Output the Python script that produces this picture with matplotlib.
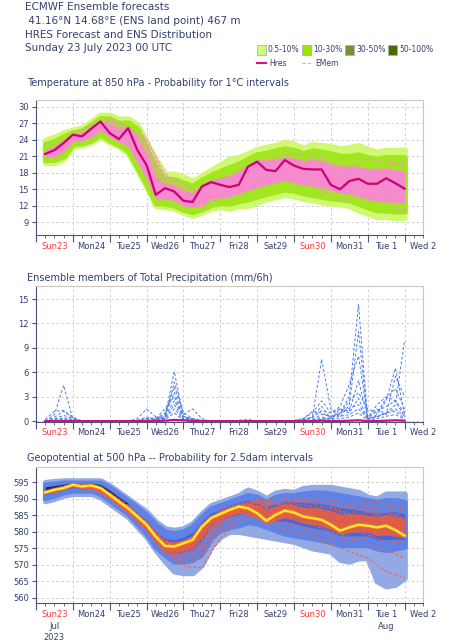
import numpy as np
import matplotlib.pyplot as plt
import matplotlib.patheffects as pe
from matplotlib.patches import Rectangle
from matplotlib.lines import Line2D
from matplotlib.transforms import blended_transform_factory

# ---- data ----
# 6-hourly steps from +6h to +240h
hours = np.arange(6, 241, 6)
# 12-hourly steps used for the individual members drawn
hours12 = np.arange(12, 241, 12)

day_labels = ['Sun23', 'Mon24', 'Tue25', 'Wed26', 'Thu27', 'Fri28',
              'Sat29', 'Sun30', 'Mon31', 'Tue 1', 'Wed 2']

# temperature 850 hPa (degC)
t_hres = [21.4, 22.1, 23.4, 24.9, 24.6, 26.0, 27.3, 25.2, 24.1, 26.1,
          22.1, 19.4, 14.0, 15.2, 14.6, 12.9, 12.7, 15.5, 16.3, 15.8,
          15.4, 15.8, 19.1, 20.0, 18.5, 18.3, 20.3, 19.3, 18.7, 18.6,
          18.6, 15.8, 15.0, 16.5, 16.9, 16.0, 16.0, 17.0, 16.1, 15.1]
t_out_hi = [24.0, 24.5, 25.3, 25.8, 26.2, 27.3, 28.5, 28.5, 27.8, 27.8,
            26.8, 23.5, 20.5, 17.8, 17.8, 17.3, 16.5, 17.5, 18.5, 19.5,
            20.5, 20.8, 21.5, 22.3, 22.7, 23.0, 23.6, 23.2, 22.5, 23.2,
            23.0, 22.8, 22.4, 22.6, 23.0, 22.3, 21.8, 22.1, 22.1, 22.2]
t_out_lo = [19.8, 19.8, 20.5, 22.8, 23.0, 23.5, 24.5, 23.5, 22.8, 21.5,
            18.5, 15.5, 12.0, 11.8, 11.5, 10.8, 10.2, 10.8, 11.5, 11.8,
            11.5, 12.0, 12.0, 12.6, 13.2, 13.6, 14.0, 13.8, 13.3, 13.0,
            12.7, 12.4, 12.3, 12.0, 11.2, 10.6, 10.0, 10.0, 9.8, 9.8]
t_mid_hi = [23.2, 23.7, 24.6, 25.3, 25.6, 26.7, 27.9, 27.8, 27.0, 27.1,
            25.9, 22.5, 18.8, 16.8, 16.8, 16.2, 15.6, 16.7, 17.6, 18.3,
            19.0, 19.6, 20.5, 21.3, 21.6, 22.0, 22.4, 22.1, 21.5, 22.0,
            21.8, 21.5, 21.0, 21.0, 21.3, 20.8, 20.5, 20.8, 20.8, 20.8]
t_mid_lo = [20.3, 20.4, 21.0, 23.2, 23.4, 23.9, 25.0, 23.9, 23.1, 22.0,
            19.0, 15.9, 12.5, 12.4, 12.1, 11.3, 10.9, 11.4, 12.2, 12.5,
            12.4, 12.9, 13.2, 13.7, 14.2, 14.6, 15.0, 14.8, 14.3, 14.0,
            13.7, 13.4, 13.2, 13.0, 12.4, 11.8, 11.2, 11.2, 11.0, 11.0]
t_core_hi = [22.3, 22.8, 23.9, 25.0, 25.2, 26.2, 27.4, 26.8, 26.0, 26.3,
             24.6, 21.2, 17.2, 16.0, 15.7, 14.8, 14.4, 15.8, 16.8, 17.0,
             17.4, 18.3, 19.5, 20.4, 20.3, 20.5, 20.9, 20.7, 20.2, 20.4,
             20.2, 19.6, 19.2, 19.2, 19.2, 18.7, 18.6, 18.7, 18.6, 18.4]
t_core_lo = [20.7, 21.0, 21.8, 23.6, 23.8, 24.4, 25.6, 24.4, 23.6, 22.8,
             19.8, 16.8, 13.2, 13.2, 13.0, 12.0, 11.7, 12.3, 13.3, 13.5,
             13.6, 14.3, 14.8, 15.3, 15.8, 16.2, 16.5, 16.2, 15.7, 15.7,
             15.2, 14.8, 14.3, 14.3, 13.8, 13.3, 12.8, 12.8, 12.6, 12.4]
t_members = [
    [22.0, 24.0, 25.5, 27.0, 25.5, 24.0, 18.0, 14.5, 13.0, 15.5, 16.0, 17.5, 20.5, 19.0, 20.5, 19.5, 17.0, 18.0, 17.5, 16.5],
    [21.0, 25.0, 26.5, 26.0, 24.5, 23.0, 16.5, 13.5, 12.0, 14.0, 15.5, 18.5, 19.0, 17.5, 19.0, 18.0, 15.5, 15.0, 14.0, 13.5],
    [22.5, 24.5, 25.0, 27.5, 26.0, 21.0, 15.0, 15.0, 12.5, 16.0, 17.5, 16.5, 18.0, 20.5, 18.0, 16.5, 17.0, 19.0, 18.5, 18.0],
    [21.5, 23.8, 26.0, 26.5, 25.0, 22.0, 14.0, 13.0, 11.5, 13.5, 14.5, 17.0, 17.0, 16.5, 16.0, 15.0, 14.0, 13.0, 12.5, 11.0],
    [20.5, 24.0, 25.5, 26.0, 24.0, 20.0, 13.5, 12.0, 11.8, 15.0, 16.5, 19.5, 21.0, 21.5, 21.0, 20.0, 19.0, 20.5, 20.0, 19.5],
    [22.8, 25.0, 26.8, 27.3, 26.5, 23.5, 16.0, 15.5, 14.0, 17.0, 18.0, 18.0, 16.5, 18.5, 17.5, 17.0, 18.0, 16.0, 15.5, 15.0],
    [21.8, 24.3, 26.0, 26.8, 25.8, 24.5, 17.0, 14.0, 12.8, 14.5, 15.0, 16.0, 18.5, 17.0, 15.5, 14.0, 13.0, 14.5, 16.0, 17.0],
    [21.2, 24.6, 25.8, 27.5, 24.8, 22.5, 15.5, 14.8, 13.5, 16.5, 17.0, 18.0, 19.5, 19.0, 19.5, 18.5, 16.0, 17.0, 19.0, 20.0],
    [22.2, 23.6, 26.3, 26.2, 25.2, 21.5, 14.5, 12.5, 12.2, 15.8, 18.5, 20.0, 20.0, 20.0, 20.5, 17.5, 15.0, 16.5, 13.5, 12.5],
    [21.6, 24.8, 25.2, 27.8, 26.2, 23.0, 17.5, 16.0, 13.8, 13.2, 14.0, 15.2, 17.5, 18.0, 16.8, 19.0, 18.5, 17.5, 17.8, 14.5],
]

# total precipitation (mm/6h)
p_hres = [0, 0, 0, 0, 0, 0, 0, 0, 0, 0,
          0, 0, 0, 0.05, 0.15, 0.1, 0, 0, 0, 0,
          0, 0, 0, 0, 0, 0, 0, 0, 0, 0,
          0.05, 0, 0, 0.05, 0.1, 0, 0, 0.05, 0.1, 0.05]
p_members = [
    [0.0, 0.8, 4.4, 0.2, 0, 0, 0, 0, 0, 0, 0, 0.3, 0.2, 0.5, 6.1, 0.6, 0.2, 0, 0, 0, 0, 0, 0, 0, 0, 0, 0, 0, 0, 0, 0.2, 0.4, 1.0, 3.0, 14.3, 0.3, 0.5, 1.0, 2.0, 9.9],
    [0.2, 1.2, 1.3, 0.5, 0, 0, 0, 0, 0, 0, 0.3, 1.5, 0.5, 0.3, 4.8, 1.0, 0.3, 0.1, 0, 0, 0, 0, 0, 0, 0, 0, 0, 0, 0.1, 0.5, 7.6, 1.5, 0.5, 2.0, 11.0, 0.2, 0.8, 2.5, 6.5, 0.8],
    [0, 0.5, 1.2, 0.4, 0, 0, 0, 0, 0, 0, 0.1, 0.5, 0.2, 1.0, 4.2, 0.8, 1.5, 0.3, 0, 0, 0, 0, 0, 0, 0, 0, 0, 0.1, 0.3, 1.0, 2.5, 1.0, 1.8, 4.5, 8.0, 0.5, 1.5, 0.8, 5.5, 3.0],
    [0, 0.3, 0.7, 0.3, 0, 0, 0, 0, 0, 0, 0, 0.3, 0.4, 0.8, 3.5, 0.5, 0.3, 0.1, 0, 0, 0, 0.1, 0.2, 0, 0, 0, 0, 0, 0.2, 0.5, 1.8, 0.3, 1.5, 1.2, 5.0, 0.4, 2.0, 3.0, 2.5, 1.0],
    [0, 0.2, 0.4, 0.2, 0, 0, 0, 0, 0, 0, 0, 0.2, 0.3, 1.5, 3.0, 0.4, 0.2, 0, 0, 0, 0, 0, 0, 0, 0, 0, 0, 0, 0.3, 1.2, 1.0, 0.5, 0.8, 2.5, 3.5, 1.5, 1.0, 2.8, 4.0, 1.5],
    [0, 0.1, 0.3, 0.1, 0, 0, 0, 0, 0, 0, 0, 0.1, 0.2, 0.6, 2.5, 0.5, 0.1, 0, 0, 0, 0, 0, 0, 0, 0, 0, 0, 0, 0.1, 0.4, 1.3, 1.0, 1.5, 1.0, 2.8, 0.2, 0.5, 1.0, 1.5, 0.6],
    [0, 0.1, 0.2, 0, 0, 0, 0, 0, 0, 0, 0, 0.1, 0.1, 0.4, 2.0, 0.3, 0.1, 0, 0, 0, 0, 0, 0, 0, 0, 0, 0, 0, 0, 0.2, 0.8, 0.6, 1.0, 1.6, 2.0, 0.4, 1.2, 1.8, 2.5, 0.5],
    [0, 0, 0.1, 0, 0, 0, 0, 0, 0, 0, 0, 0, 0.2, 0.3, 1.5, 0.2, 0, 0, 0, 0, 0, 0, 0, 0, 0, 0, 0, 0, 0, 0.1, 0.5, 0.3, 0.6, 0.8, 1.5, 0.3, 0.6, 1.0, 1.2, 0.3],
    [0, 0, 0, 0, 0, 0, 0, 0, 0, 0, 0, 0, 0.1, 0.2, 1.0, 0.1, 0, 0, 0, 0, 0, 0, 0, 0, 0, 0, 0, 0, 0, 0, 0.3, 0.2, 0.3, 0.5, 1.0, 0.1, 0.3, 0.6, 0.8, 0.2],
]

# geopotential 500 hPa (dam)
z_hres = [591.9, 592.7, 593.2, 594.2, 593.7, 594.0, 593.2, 591.2, 589.1, 587.1,
          584.6, 582.1, 578.5, 575.7, 575.5, 576.5, 577.5, 581.5, 584.1, 585.4,
          586.6, 587.6, 587.1, 585.6, 583.3, 585.1, 586.4, 585.8, 584.6, 584.1,
          583.6, 582.1, 580.3, 581.3, 582.1, 581.8, 581.3, 581.8, 580.5, 578.8]
z_out_hi = [595.0, 595.3, 595.5, 595.5, 595.5, 595.5, 595.5, 594.0, 592.0, 590.0,
            588.0, 586.0, 583.0, 581.0, 580.5, 581.0, 582.5, 585.5, 588.0, 589.0,
            590.0, 591.0, 592.7, 591.7, 590.1, 591.8, 592.3, 592.0, 593.2, 593.5,
            593.5, 593.5, 593.0, 592.5, 592.0, 590.5, 590.0, 591.5, 591.5, 591.5]
z_out_lo = [589.3, 590.0, 591.0, 591.5, 591.5, 591.5, 590.5, 588.5, 586.5, 584.5,
            581.5, 578.5, 574.5, 571.0, 568.0, 567.5, 567.5, 570.0, 575.5, 578.5,
            580.0, 580.0, 579.5, 579.0, 578.5, 578.0, 577.5, 577.0, 576.0, 575.0,
            574.5, 574.0, 571.5, 571.0, 572.0, 572.0, 565.0, 563.5, 564.0, 566.0]
z_mid_hi = [594.3, 594.5, 594.8, 594.8, 594.8, 594.8, 594.8, 593.3, 591.3, 589.3,
            587.3, 585.0, 582.0, 580.0, 579.5, 580.0, 581.5, 584.5, 587.0, 588.0,
            589.0, 590.0, 591.0, 590.5, 589.0, 590.5, 591.0, 591.0, 591.5, 591.8,
            591.8, 591.5, 591.0, 590.5, 590.0, 589.5, 589.0, 589.5, 589.5, 589.0]
z_mid_lo = [590.3, 591.0, 592.0, 592.5, 592.5, 592.5, 591.5, 589.5, 587.5, 585.5,
            582.5, 579.5, 575.5, 573.0, 571.0, 571.0, 571.5, 573.5, 578.5, 580.5,
            581.5, 582.0, 583.0, 582.5, 581.5, 580.5, 579.5, 579.0, 578.5, 578.0,
            577.5, 577.0, 576.0, 576.0, 576.0, 576.0, 575.0, 574.5, 575.0, 575.5]
z_dark_hi = [593.4, 593.8, 594.2, 594.6, 594.4, 594.5, 594.0, 592.3, 590.2, 588.2,
             585.8, 583.4, 580.2, 578.0, 577.6, 578.4, 579.8, 583.2, 585.6, 586.8,
             588.0, 589.0, 589.6, 588.8, 587.6, 588.6, 589.4, 589.2, 588.8, 588.8,
             588.4, 588.0, 587.2, 587.0, 586.6, 586.0, 585.6, 586.0, 586.0, 585.6]
z_dark_lo = [591.2, 592.0, 592.7, 593.4, 593.0, 593.2, 592.4, 590.2, 588.2, 586.2,
             583.4, 580.6, 576.6, 574.2, 573.4, 573.8, 574.6, 577.4, 581.6, 583.6,
             584.6, 585.2, 585.8, 584.8, 583.6, 583.2, 583.2, 582.6, 581.8, 581.2,
             580.6, 580.0, 578.8, 578.6, 578.8, 578.6, 577.6, 577.6, 577.8, 577.6]
# navy (50-100%) strip, first two and a half days only
z_navy_hi = [593.6, 594.0, 594.4, 594.8, 594.6, 594.7, 594.3, 592.6, 590.5, 588.6]
z_navy_lo = [592.2, 592.8, 593.4, 594.2, 593.8, 594.0, 593.3, 591.3, 589.3, 587.3]
# red/orange core of the member spaghetti
z_red_hi = [592.6, 593.2, 593.8, 594.4, 594.0, 594.2, 593.6, 591.8, 589.8, 587.8,
            585.4, 583.0, 579.6, 577.2, 576.8, 577.6, 578.8, 582.4, 585.0, 586.2,
            587.4, 588.4, 588.8, 588.0, 586.6, 587.8, 588.6, 588.2, 587.4, 587.2,
            587.0, 586.4, 585.4, 585.4, 585.4, 585.0, 584.6, 585.0, 584.8, 584.0]
z_red_lo = [591.4, 592.1, 592.7, 593.6, 593.0, 593.2, 592.3, 590.2, 588.2, 586.2,
            583.4, 580.8, 576.8, 574.2, 573.6, 574.2, 575.0, 578.4, 582.2, 584.0,
            585.0, 585.6, 585.2, 584.0, 582.2, 583.4, 584.2, 583.8, 582.6, 582.2,
            581.6, 580.6, 579.2, 579.6, 580.0, 579.8, 578.8, 579.0, 578.6, 578.2]
z_members = [
    [592.5, 594.5, 594.0, 591.5, 587.5, 582.5, 576.0, 574.0, 578.0, 584.5, 587.5, 590.0, 588.0, 589.5, 588.5, 587.0, 585.0, 584.0, 586.0, 584.0],
    [592.8, 594.0, 593.5, 591.0, 586.5, 581.0, 574.5, 572.0, 575.0, 583.0, 586.5, 588.0, 586.5, 586.0, 585.0, 583.0, 580.5, 579.0, 577.0, 576.5],
    [592.0, 594.3, 593.8, 590.5, 587.0, 582.0, 577.0, 576.5, 580.5, 586.0, 588.0, 587.0, 584.5, 587.5, 586.0, 585.0, 584.0, 586.0, 584.0, 582.0],
    [592.3, 593.8, 593.0, 590.8, 586.0, 581.5, 575.0, 570.5, 572.0, 580.0, 584.0, 586.0, 583.0, 582.0, 580.5, 578.0, 577.0, 578.5, 580.0, 583.0],
    [593.0, 594.6, 594.2, 591.8, 588.0, 583.0, 577.5, 575.0, 577.5, 583.5, 586.5, 589.5, 589.5, 590.5, 589.0, 588.5, 587.0, 586.5, 587.5, 586.0],
    [591.8, 594.0, 593.5, 590.0, 585.5, 580.5, 574.0, 569.5, 569.0, 578.0, 583.0, 585.0, 581.5, 580.0, 578.5, 576.0, 574.0, 572.0, 568.0, 566.0],
    [592.5, 594.2, 593.6, 591.2, 587.2, 582.0, 576.0, 573.5, 577.0, 584.0, 587.0, 588.5, 585.5, 584.5, 584.0, 582.5, 582.0, 581.0, 579.0, 580.0],
    [592.2, 594.1, 593.9, 590.9, 586.8, 581.8, 575.5, 574.5, 579.5, 585.0, 587.8, 588.8, 587.0, 588.5, 587.5, 586.0, 583.5, 583.0, 585.0, 585.5],
    [592.6, 594.4, 593.3, 590.2, 585.8, 580.2, 573.5, 571.5, 573.5, 581.5, 585.5, 587.5, 588.5, 589.0, 590.0, 589.5, 588.0, 589.0, 588.5, 587.5],
    [592.1, 593.9, 594.0, 591.4, 587.6, 582.8, 576.8, 575.8, 581.5, 586.5, 588.5, 589.0, 585.0, 583.5, 582.0, 580.0, 578.5, 576.0, 574.5, 572.0],
    [592.4, 594.2, 593.7, 590.6, 586.2, 580.8, 574.8, 573.0, 576.0, 582.5, 586.0, 587.5, 586.0, 585.0, 586.5, 584.5, 583.0, 580.5, 582.0, 579.0],
    [592.7, 594.3, 593.4, 591.6, 587.0, 582.2, 576.5, 575.5, 578.5, 584.0, 587.0, 589.0, 588.5, 586.5, 587.0, 587.5, 585.5, 587.5, 583.5, 581.0],
]

# ---- styling ----
TXT = '#33406e'
SUN = '#ff3b3b'
W, H = 473, 640

fig = plt.figure(figsize=(W / 100, H / 100), dpi=100)
fig.patch.set_facecolor('white')

header = ['ECMWF Ensemble forecasts',
          ' 41.16°N 14.68°E (ENS land point) 467 m',
          'HRES Forecast and ENS Distribution',
          'Sunday 23 July 2023 00 UTC']
for i, line in enumerate(header):
    fig.text(25 / W, 1 - (7.5 + 13.6 * i) / H, line, fontsize=7.5, color=TXT,
             va='center', ha='left')

# legend
leg_cols = ['#ccff77', '#99e600', '#76913a', '#4a6b00']
leg_txt = ['0.5-10%', '10-30%', '30-50%', '50-100%']
for x0, c, s in zip([257, 302, 345, 388], leg_cols, leg_txt):
    fig.add_artist(Rectangle((x0 / W, 1 - 55 / H), 9 / W, 10 / H, transform=fig.transFigure,
                             facecolor=c, edgecolor='#b0b0b0', lw=0.6))
    fig.text((x0 + 11) / W, 1 - 50 / H, s, fontsize=5.5, color=TXT, va='center')
fig.add_artist(Line2D([257 / W, 266 / W], [1 - 63 / H] * 2, transform=fig.transFigure,
                      color='#dd1177', lw=1.5))
fig.text(269 / W, 1 - 63 / H, 'Hres', fontsize=5.5, color=TXT, va='center')
fig.add_artist(Line2D([302 / W, 312 / W], [1 - 63 / H] * 2, transform=fig.transFigure,
                      color='#ff99cc', lw=0.8, ls=(0, (3, 2))))
fig.text(315 / W, 1 - 63 / H, 'EMem', fontsize=5.5, color=TXT, va='center')


def make_ax(top, bottom, title, title_y):
    ax = fig.add_axes([36 / W, 1 - bottom / H, (423 - 36) / W, (bottom - top) / H])
    fig.text(27 / W, 1 - title_y / H, title, fontsize=7, color=TXT, va='center')
    ax.set_xlim(0, 252)
    ax.set_xticks(np.arange(0, 241, 24))
    ax.set_xticks(np.arange(0, 253, 6), minor=True)
    ax.set_xticklabels([])
    ax.tick_params(axis='x', which='major', length=5, color='#4a5578', width=0.8)
    ax.tick_params(axis='x', which='minor', length=2.5, color='#4a5578', width=0.6)
    ax.tick_params(axis='y', length=3, color='#4a5578', labelsize=6, labelcolor=TXT, pad=2)
    ax.grid(True, which='major', color='#c8c8c8', ls=(0, (3, 3)), lw=0.6)
    for s in ['top', 'right']:
        ax.spines[s].set_color('#d0c8be')
    for s in ['left', 'bottom']:
        ax.spines[s].set_color('#4a5578')
    trans = blended_transform_factory(ax.transData, ax.transAxes)
    for k, lab in enumerate(day_labels):
        ax.text(12 + 24 * k, -0.085 * 135 / (bottom - top), lab, transform=trans,
                ha='center', va='center', fontsize=6,
                color=SUN if lab.startswith('Sun') else TXT)
    ax.set_axisbelow(True)
    return ax


def band(ax, x, lo, hi, color, z):
    ax.fill_between(x, lo, hi, facecolor=color, edgecolor=color, lw=4,
                    joinstyle='round', capstyle='round', zorder=z)


# ---- temperature ----
ax1 = make_ax(100, 235, 'Temperature at 850 hPa - Probability for 1°C intervals', 83)
ax1.set_ylim(6.7, 31.2)
ax1.set_yticks(np.arange(9, 31, 3))
band(ax1, hours, t_out_lo, t_out_hi, '#d0f872', 2)
band(ax1, hours, t_mid_lo, t_mid_hi, '#a2e622', 3)
ax1.fill_between(hours, t_core_lo, t_core_hi, color='#f38ccc', lw=0, zorder=4)
for m in t_members:
    ax1.plot(hours12, m, color='#ff88cc', lw=0.7, ls=(0, (3, 2)), zorder=5)
ax1.plot(hours, t_hres, color='#cc0077', lw=1.6, zorder=6)

# ---- precipitation ----
ax2 = make_ax(286, 421.5, 'Ensemble members of Total Precipitation (mm/6h)', 278)
ax2.set_ylim(-0.05, 16.6)
ax2.set_yticks(np.arange(0, 16, 3))
for m in p_members:
    ax2.plot(hours, m, color='#4d7ee6', lw=0.7, ls=(0, (3, 2)), zorder=4)
ax2.plot(hours, p_hres, color='#d0107a', lw=1.6, zorder=6)

# ---- geopotential ----
ax3 = make_ax(467, 603, 'Geopotential at 500 hPa -- Probability for 2.5dam intervals', 458)
ax3.set_ylim(558.4, 599.6)
ax3.set_yticks(np.arange(560, 596, 5))
band(ax3, hours, z_out_lo, z_out_hi, '#93a9e4', 2)
band(ax3, hours, z_mid_lo, z_mid_hi, '#5f82e6', 3)
ax3.fill_between(hours, z_dark_lo, z_dark_hi, color='#4468d8', lw=0, zorder=3.5)
ax3.fill_between(hours[:len(z_navy_hi)], z_navy_lo, z_navy_hi, color='#1f2d6e', lw=0, zorder=3.6)
ax3.fill_between(hours, z_red_lo, z_red_hi, color='#ee5e3a', alpha=0.85, lw=0, zorder=3.7)
for m in z_members:
    ax3.plot(hours12, m, color='#ff5a3a', lw=0.7, ls=(0, (3, 2)), zorder=5)
ax3.plot(hours, z_hres, color='#f2f23a', lw=1.4, zorder=6,
         path_effects=[pe.Stroke(linewidth=2.6, foreground='#ff8a1a'), pe.Normal()])
trans3 = blended_transform_factory(ax3.transData, ax3.transAxes)
ax3.text(12, -0.17, 'Jul', transform=trans3, ha='center', va='center', fontsize=6, color=TXT)
ax3.text(12, -0.25, '2023', transform=trans3, ha='center', va='center', fontsize=6, color=TXT)
ax3.text(228, -0.17, 'Aug', transform=trans3, ha='center', va='center', fontsize=6, color=TXT)

fig.savefig('out.png', dpi=100)
